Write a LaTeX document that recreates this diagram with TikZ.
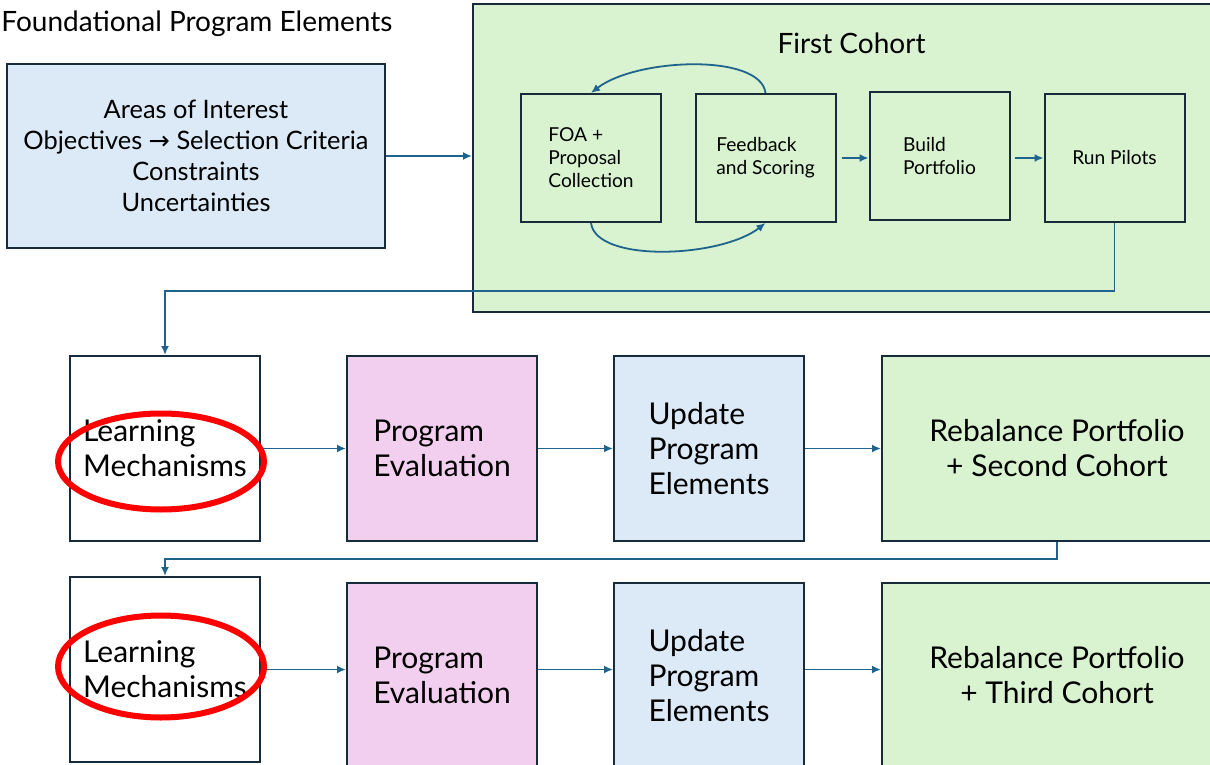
\documentclass[tikz,border=0pt]{standalone}
\usepackage{fontspec}
\setmainfont{Lato}
\newfontfamily\arrowfont{DejaVu Sans}
\usetikzlibrary{arrows.meta,calc}

\definecolor{boxline}{RGB}{23,43,58}
\definecolor{flowline}{RGB}{30,100,140}
\definecolor{paleblue}{RGB}{220,233,246}
\definecolor{palegreen}{RGB}{217,242,208}
\definecolor{palepink}{RGB}{242,207,238}

\tikzset{
  box/.style={draw=boxline, line width=1pt, fill=white, minimum width=95pt,
    minimum height=92.5pt, align=left, inner sep=0pt, text=black,
    font=\fontsize{15}{17.5}\selectfont},
  stage/.style={draw=boxline, line width=1pt, minimum width=70pt,
    minimum height=64pt, align=left, inner sep=0pt, text=black,
    font=\fontsize{9.6}{11.5}\selectfont},
  flow/.style={draw=flowline, line width=0.9pt, -{Latex[length=4.5pt,width=4pt]}},
  ring/.style={draw=red, line width=3pt},
}

\begin{document}
\begin{tikzpicture}[x=0.5pt,y=-0.5pt]
    \useasboundingbox (0,0) rectangle (1210,765);
    % Foundational elements
    \node[anchor=base west, inner xsep=0pt, font=\fontsize{14}{16}\selectfont] (foundtitle) at (1,32) {Foundational Program Elements};
    \node[box, fill=paleblue, minimum width=189pt, minimum height=92pt, align=center,
      font=\fontsize{12.7}{15.4}\selectfont] (found) at (196,156)
      {Areas of Interest\\Objectives {\arrowfont →} Selection Criteria\\Constraints\\Uncertainties\vphantom{A}};
    % First cohort box
    \node[box, fill=palegreen, minimum width=378.5pt, minimum height=154pt] (cohort) at (851.5,158) {};
    \node[font=\fontsize{14}{16}\selectfont] (cohorttitle) at ($(cohort.north)+(0,40)$) {First Cohort};
    \node[stage] (foa) at (591,158) {FOA +\\Proposal\\Collection};
    \node[stage] (feedback) at (765.5,158) {Feedback\\and Scoring};
    \node[stage] (build) at (939.5,156) {Build\\Portfolio};
    \node[stage] (pilots) at (1114.5,158) {Run Pilots};
    % Second row
    \node[box] (learnA) at (165,448.5) {Learning\\Mechanisms};
    \node[box, fill=palepink] (evalA) at (442,448.5) {Program\\Evaluation};
    \node[box, fill=paleblue] (updateA) at (709,448.5) {Update\\Program\\Elements};
    \node[box, fill=palegreen, minimum width=175pt, align=center] (rebalA) at (1057,448.5) {Rebalance Portfolio\\+ Second Cohort};
    % Third row
    \node[box] (learnB) at (165,669.5) {Learning\\Mechanisms};
    \node[box, fill=palepink] (evalB) at (442,675.5) {Program\\Evaluation};
    \node[box, fill=paleblue] (updateB) at (709,675.5) {Update\\Program\\Elements};
    \node[box, fill=palegreen, minimum width=175pt, align=center] (rebalB) at (1057,675.5) {Rebalance Portfolio\\+ Third Cohort};
    % Arrows
    \draw[flow] (found.east) -- (found.east -| cohort.west);
    \draw[flow] (feedback.north) .. controls +(-5,-40) and +(45,-35) .. (foa.north);
    \draw[flow] (foa.south) .. controls +(5,40) and +(-45,35) .. (feedback.south);
    \draw[flow, shorten <=2.5pt] (feedback.east) -- (feedback.east -| build.west);
    \draw[flow, shorten <=2pt] (build.east |- feedback.east) -- (pilots.west |- feedback.east);
    \draw[flow] (pilots.south) -- ++(0,68) -| (learnA.north);
    \draw[flow] (learnA) -- (evalA);
    \draw[flow] (evalA) -- (updateA);
    \draw[flow] (updateA) -- (rebalA);
    \draw[flow] (rebalA.south) -- ++(0,17) -| (learnB.north);
    \draw[flow] (learnB.east) -- (learnB.east -| evalB.west);
    \draw[flow] (evalB.east |- learnB.east) -- (updateB.west |- learnB.east);
    \draw[flow] (updateB.east |- learnB.east) -- (rebalB.west |- learnB.east);
    % Highlight rings
    \draw[ring] ($(learnA)+(-4,13)$) ellipse [x radius=51.5pt, y radius=24pt];
    \draw[ring] ($(learnB)+(-4,-3)$) ellipse [x radius=51.5pt, y radius=25.5pt];
\end{tikzpicture}
\end{document}
